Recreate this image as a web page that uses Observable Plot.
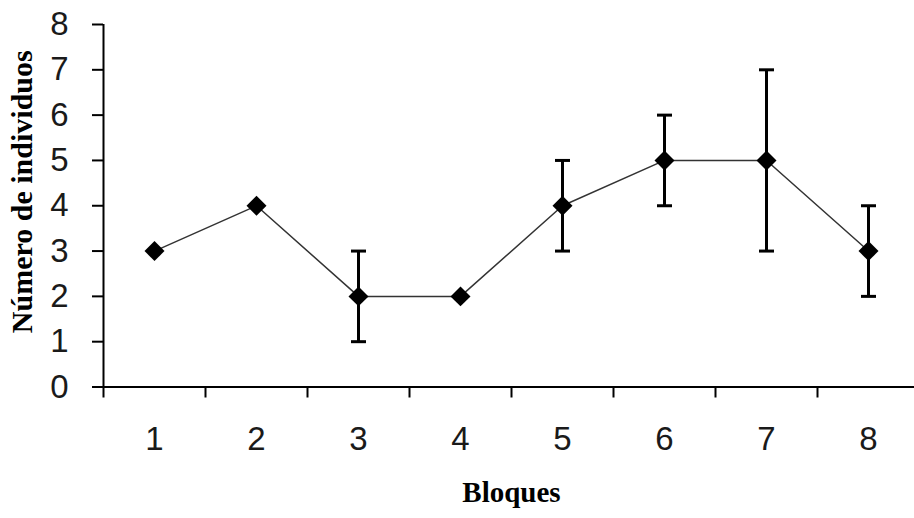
<!DOCTYPE html>
<html>
<head>
<meta charset="utf-8">
<script src="https://cdn.jsdelivr.net/npm/d3@7"></script>
<script src="https://cdn.jsdelivr.net/npm/@observablehq/plot@0.6"></script>
<style>
  html, body { margin: 0; padding: 0; background: #ffffff; }
  #chart svg { display: block; }
</style>
</head>
<body>
<div id="chart"></div>
<script>
// Data
const bloques = [1, 2, 3, 4, 5, 6, 7, 8];
const individuos = [3, 4, 2, 2, 4, 5, 5, 3];
const errores = [0, 0, 1, 0, 1, 1, 2, 1];
const yTicks = [0, 1, 2, 3, 4, 5, 6, 7, 8];
const xTitle = "Bloques";
const yTitle = "Número de individuos";

const data = bloques.map((b, i) => ({b, v: individuos[i], e: errores[i]}));
const errData = data.filter(d => d.e > 0);
const caps = errData.flatMap(d => [{b: d.b, y: d.v - d.e}, {b: d.b, y: d.v + d.e}]);
const boundaries = [...bloques.map(b => b - 0.5), bloques[bloques.length - 1] + 0.5];

const capSymbol = {
  draw(context) {
    context.moveTo(-7.5, 0);
    context.lineTo(7.5, 0);
  }
};

const chart = Plot.plot({
  width: 914,
  height: 518,
  marginLeft: 103,
  marginRight: -5,
  marginTop: 24,
  marginBottom: 131.5,
  style: {background: "#ffffff", fontFamily: "Liberation Sans", color: "#000"},
  x: {domain: [boundaries[0], boundaries[boundaries.length - 1]], axis: null, label: null},
  y: {domain: [0, 8], axis: null, label: null},
  marks: [
    // axis lines
    Plot.ruleY([0], {stroke: "#000", strokeWidth: 2}),
    Plot.ruleX([boundaries[0]], {stroke: "#000", strokeWidth: 2}),
    // y axis ticks and labels
    Plot.axisY({ticks: yTicks, label: null, tickSize: 11, tickPadding: 24, fontSize: 33, strokeWidth: 2, color: "#1a1a1a", stroke: "#000"}),
    // x boundary ticks
    Plot.axisX({ticks: boundaries, label: null, tickSize: 11, tickFormat: () => "", strokeWidth: 2, stroke: "#000"}),
    // x category labels
    Plot.axisX({ticks: bloques, label: null, tickSize: 0, tickPadding: 40, fontSize: 33, color: "#1a1a1a"}),
    // connecting line
    Plot.line(data, {x: "b", y: "v", stroke: "#333", strokeWidth: 1.5}),
    // error bars
    Plot.ruleX(errData, {x: "b", y1: d => d.v - d.e, y2: d => d.v + d.e, stroke: "#000", strokeWidth: 3}),
    Plot.dot(caps, {x: "b", y: "y", symbol: capSymbol, fill: "none", stroke: "#000", strokeWidth: 3}),
    // markers
    Plot.dot(data, {x: "b", y: "v", symbol: "diamond2", r: 9, fill: "#000", stroke: "none"}),
    // titles
    Plot.text([xTitle], {text: d => d, frameAnchor: "bottom", textAnchor: "middle", dy: 115, fontSize: 29, fontWeight: "bold", fontFamily: "Liberation Serif", fill: "#000"}),
    Plot.text([yTitle], {text: d => d, frameAnchor: "left", textAnchor: "middle", rotate: -90, dx: -81, dy: -14, fontSize: 30, fontWeight: "bold", fontFamily: "Liberation Serif", fill: "#000"})
  ]
});
document.getElementById("chart").appendChild(chart);
</script>
</body>
</html>
